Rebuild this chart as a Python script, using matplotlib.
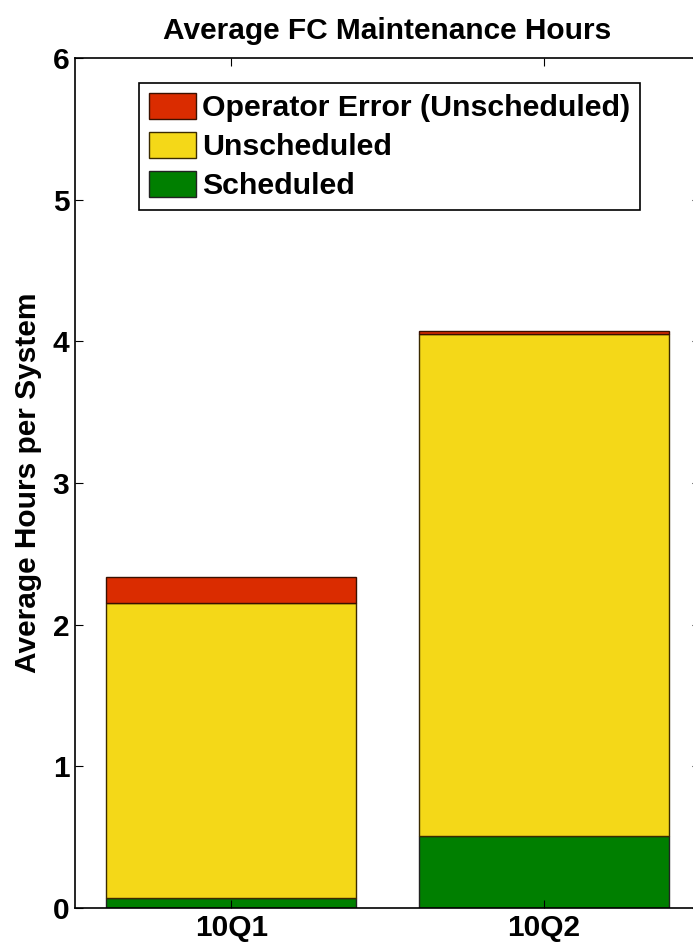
import matplotlib
matplotlib.use('Agg')
from matplotlib import pyplot as plt
import numpy as np

plt.rcParams['font.family'] = ['Liberation Sans', 'DejaVu Sans']
plt.rcParams['font.weight'] = 'bold'

quarters = ['10Q1', '10Q2']
scheduled = [0.07, 0.51]
unscheduled = [2.08, 3.54]
operator_err = [0.19, 0.02]

c_red = '#DA2C00'
c_yel = '#F4D818'
c_grn = '#007F00'

W, H = 693, 943
fig = plt.figure(figsize=(W / 100, H / 100), dpi=100)
ax = fig.add_axes([75 / W, 35 / H, 625 / W, 850 / H])

x = np.arange(1, len(quarters) + 1)
s = np.array(scheduled)
u = np.array(unscheduled)
o = np.array(operator_err)
ax.bar(x, s, 0.8, color=c_grn, edgecolor='#222222', linewidth=1, label='Scheduled')
ax.bar(x, u, 0.8, bottom=s, color=c_yel, edgecolor='#3a2a00', linewidth=1, label='Unscheduled')
ax.bar(x, o, 0.8, bottom=s + u, color=c_red, edgecolor='#3a1000', linewidth=1,
       label='Operator Error (Unscheduled)')

ax.set_xlim(0.5, 2.5)
ax.set_ylim(0, 6)
ax.set_xticks(x)
ax.set_xticklabels(quarters, fontsize=21.5, fontweight='bold')
ax.set_yticks(range(7))
ax.tick_params(axis='y', labelsize=21.5, direction='in', length=6, right=True, pad=4)
ax.tick_params(axis='x', direction='in', length=6, top=True, pad=4)
for sp in ax.spines.values():
    sp.set_linewidth(1.2)

ax.set_title('Average FC Maintenance Hours', fontsize=21.5, fontweight='bold', pad=14)
ax.set_ylabel('Average Hours per System', fontsize=21.5, fontweight='bold', labelpad=8)

h, l = ax.get_legend_handles_labels()
leg = ax.legend(h[::-1], l[::-1], loc='upper left', bbox_to_anchor=(139 / W, 1 - 83 / H),
                bbox_transform=fig.transFigure, borderaxespad=0, fontsize=21.8,
                fancybox=False, edgecolor='black', framealpha=1, handlelength=1.55,
                handleheight=0.95, handletextpad=0.22, labelspacing=0.32, borderpad=0.32)
leg.get_frame().set_linewidth(1.2)

fig.savefig('out.png', dpi=100)
